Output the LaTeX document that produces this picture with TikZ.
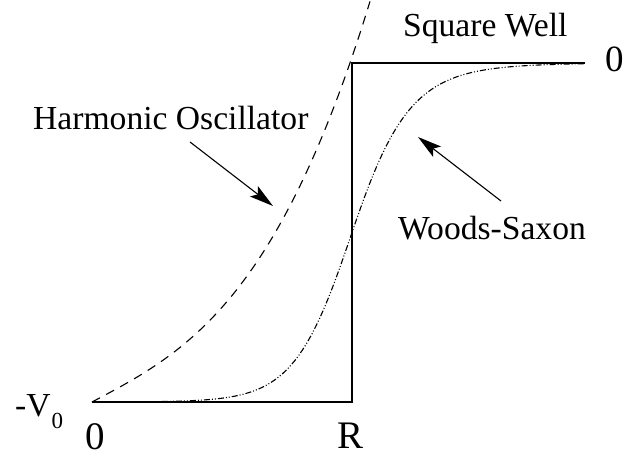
\documentclass[tikz,border=0pt]{standalone}
\usepackage{fontspec}
\setmainfont{Liberation Serif}
\usetikzlibrary{arrows.meta}

\begin{document}
\begin{tikzpicture}[x=1pt,y=1pt,>={Stealth[length=24pt,width=13pt,inset=5pt]},
  lab/.style={inner sep=0pt,font=\fontsize{33.6}{36}\selectfont},
  big/.style={inner sep=0pt,font=\fontsize{39}{42}\selectfont},
  well/.style={line width=1.3pt},
  wsax/.style={line width=1.1pt,dash pattern=on 6pt off 2pt on 1pt off 2pt on 1pt off 2pt},
  harm/.style={line width=1.1pt,dash pattern=on 9pt off 7pt},
  pt/.style={->,line width=1.1pt}]
  \useasboundingbox (-92,-55) rectangle (531,402);
  % square well: R = 260, V0 = 339
  \draw[well] (0,0) -- (260,0) -- (260,339) -- (493,339);
  \draw[wsax] plot[domain=0:493,samples=120] (\x,{339/(1+exp(-(\x-260)/(29+0.04*max(\x-260,0))))});
  \draw[harm] plot[domain=0:278,samples=80] (\x,{0.529*\x+11.8*(\x/100)^3});
  % labels
  \node[lab,anchor=base west] (ho) at (-59,272) {Harmonic Oscillator};
  \node[lab,anchor=base west] (sw) at (311,365) {Square Well};
  \node[lab,anchor=base west] (ws) at (306,162) {Woods-Saxon};
  \node[big,anchor=base west,font=\fontsize{37}{40}\selectfont] (zero) at (513,330) {0};
  \node[big,anchor=base] (orig) at (3,-48) {0};
  \node[big,anchor=base] (rr) at (259,-47) {R};
  \node[lab,anchor=base west] (vo) at (-77,-15) {-V\kern1pt\raisebox{-12pt}{\fontsize{23}{23}\selectfont 0}};
  % pointers
  \coordinate (hoa) at (98,260);
  \coordinate (hob) at (181,196);
  \coordinate (wsa) at (409,201);
  \coordinate (wsb) at (326,265);
  \draw[pt] (hoa) -- (hob);
  \draw[pt] (wsa) -- (wsb);
\end{tikzpicture}
\end{document}
